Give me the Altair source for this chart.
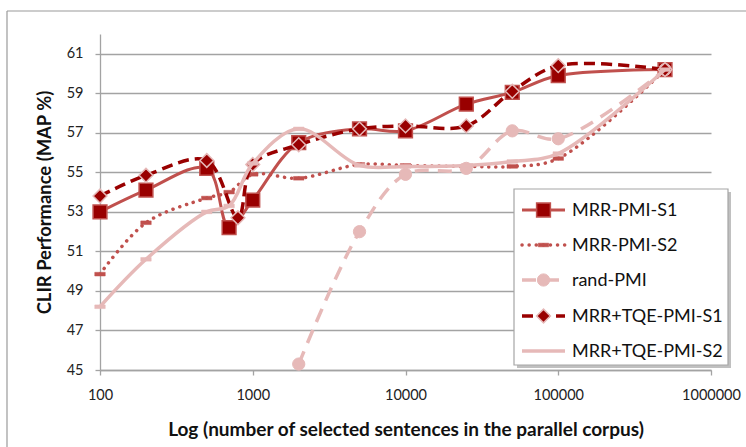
import altair as alt
import pandas as pd

# Number of selected sentences (x) and MAP scores (%) for each run
n_mrr_s1 = [100, 200, 500, 700, 1000, 2000, 5000, 10000, 25000, 50000, 100000, 500000]
map_mrr_s1 = [53.0, 54.1, 55.2, 52.2, 53.6, 56.5, 57.2, 57.1, 58.45, 59.05, 59.9, 60.2]

n_mrr_s2 = [100, 200, 500, 700, 1000, 2000, 5000, 10000, 25000, 50000, 100000, 500000]
map_mrr_s2 = [49.85, 52.45, 53.7, 54.0, 54.9, 54.7, 55.4, 55.35, 55.3, 55.3, 55.7, 60.2]

n_rand = [2000, 5000, 10000, 25000, 50000, 100000, 500000]
map_rand = [45.3, 52.0, 54.9, 55.2, 57.1, 56.7, 60.2]

n_tqe_s1 = [100, 200, 500, 800, 1000, 2000, 5000, 10000, 25000, 50000, 100000, 500000]
map_tqe_s1 = [53.8, 54.85, 55.6, 52.7, 55.4, 56.4, 57.2, 57.35, 57.35, 59.1, 60.4, 60.2]

n_tqe_s2 = [100, 200, 500, 700, 1000, 2000, 5000, 10000, 25000, 50000, 100000, 500000]
map_tqe_s2 = [48.2, 50.6, 53.0, 53.3, 55.45, 57.2, 55.35, 55.3, 55.35, 55.55, 55.95, 60.2]

x_ticks = [100, 1000, 10000, 100000, 1000000]
y_ticks = [45, 47, 49, 51, 53, 55, 57, 59, 61]

series_names = ["MRR-PMI-S1", "MRR-PMI-S2", "rand-PMI", "MRR+TQE-PMI-S1", "MRR+TQE-PMI-S2"]

W, H = 611, 336
FONT = "Lato"
AXIS_GREY = "#a3a3a3"

RED_MID = "#c0504d"
RED_DARK = "#990000"
PINK = "#e6b9b8"
DASH_BAR = "M-1,-0.35H1V0.35H-1Z"

X = alt.X(
    "n:Q",
    scale=alt.Scale(type="log", domain=[100, 1000000]),
    axis=alt.Axis(
        values=x_ticks, format="d", grid=False, labelFlush=False,
        title="Log (number of selected sentences in the parallel corpus)",
        domainColor=AXIS_GREY, domainWidth=1.3, tickColor=AXIS_GREY, tickWidth=1.3,
        tickSize=5, labelPadding=13, labelFont=FONT, labelFontSize=14.5,
        labelColor="#222222", titleFont=FONT, titleFontSize=19, titleFontWeight="bold",
        titleColor="#111111", titlePadding=19,
    ),
)
Y = alt.Y(
    "v:Q",
    scale=alt.Scale(domain=[45, 62], nice=False, zero=False),
    axis=alt.Axis(
        values=y_ticks, grid=True, gridColor=AXIS_GREY, gridWidth=1.3, labelFlush=False,
        title="CLIR Performance (MAP %)",
        domainColor=AXIS_GREY, domainWidth=1.3, tickColor=AXIS_GREY, tickWidth=1.3,
        tickSize=5, labelPadding=12, labelFont=FONT, labelFontSize=14.5,
        labelColor="#222222", titleFont=FONT, titleFontSize=18.4, titleFontWeight="bold",
        titleColor="#111111", titlePadding=12,
    ),
)


def frame(ns, vs):
    return pd.DataFrame({"n": ns, "v": vs})


def series(ns, vs, line_style, point_style):
    df = frame(ns, vs)
    line = alt.Chart(df).mark_line(interpolate="catmull-rom", **line_style).encode(x=X, y=Y)
    layers = [line]
    if point_style is not None:
        layers.append(
            alt.Chart(df).mark_point(opacity=1, fillOpacity=1, **point_style).encode(x=X, y=Y)
        )
    return layers


styles = [
    (dict(stroke=RED_MID, strokeWidth=3),
     dict(shape="square", fill=RED_DARK, stroke=RED_MID, strokeWidth=1.5, size=190)),
    (dict(stroke=RED_MID, strokeWidth=3.5, strokeDash=[0.1, 7], strokeCap="round"),
     dict(shape=DASH_BAR, fill=RED_MID, stroke=RED_MID, strokeWidth=0.5, size=110)),
    (dict(stroke=PINK, strokeWidth=3.5, strokeDash=[14, 9]),
     dict(shape="circle", fill=PINK, stroke=PINK, strokeWidth=1, size=150)),
    (dict(stroke=RED_DARK, strokeWidth=3.5, strokeDash=[11, 6]),
     dict(shape="diamond", fill=RED_DARK, stroke=PINK, strokeWidth=1.5, size=190)),
    (dict(stroke=PINK, strokeWidth=3.5),
     dict(shape=DASH_BAR, fill=PINK, stroke=PINK, strokeWidth=0.5, size=110)),
]

data_sets = [
    (n_mrr_s1, map_mrr_s1),
    (n_mrr_s2, map_mrr_s2),
    (n_rand, map_rand),
    (n_tqe_s1, map_tqe_s1),
    (n_tqe_s2, map_tqe_s2),
]

layers = []
for (ns, vs), (ls, ps) in zip(data_sets, styles):
    layers += series(ns, vs, ls, ps)

# Outer chart frame (top and left edges)
one = alt.Data(values=[{"k": 0}])
frame_top = alt.Chart(one).mark_rule(stroke="#9a9a9a", strokeWidth=1.2).encode(
    x=alt.value(-93), x2=alt.value(W + 60), y=alt.value(-23))
frame_left = alt.Chart(one).mark_rule(stroke="#9a9a9a", strokeWidth=1.2).encode(
    x=alt.value(-93), y=alt.value(-23), y2=alt.value(H + 90))
layers += [frame_top, frame_left]

# Legend box with drop shadow
LX0, LX1, LY0, LY1 = 414, 628, 155, 331
shadow = alt.Chart(one).mark_rect(fill="#8c8c8c", opacity=0.55).encode(
    x=alt.value(LX0 + 3), x2=alt.value(LX1 + 3), y=alt.value(LY0 + 3), y2=alt.value(LY1 + 3))
box = alt.Chart(one).mark_rect(fill="white", stroke="#a6a6a6", strokeWidth=1.2).encode(
    x=alt.value(LX0), x2=alt.value(LX1), y=alt.value(LY0), y2=alt.value(LY1))
layers += [shadow, box]

row_y = [176, 211, 246, 282, 317]
for name, ry, (ls, ps) in zip(series_names, row_y, styles):
    lab = alt.Data(values=[{"label": name}])
    layers.append(alt.Chart(lab).mark_rule(**ls).encode(
        x=alt.value(422), x2=alt.value(465), y=alt.value(ry)))
    if name != "MRR+TQE-PMI-S2":
        layers.append(alt.Chart(lab).mark_point(opacity=1, fillOpacity=1, **ps).encode(
            x=alt.value(443.5), y=alt.value(ry)))
    layers.append(alt.Chart(lab).mark_text(
        align="left", baseline="middle", font=FONT, fontSize=18, color="#111111"
    ).encode(x=alt.value(472), y=alt.value(ry + 1), text="label:N"))

chart = alt.layer(*layers).properties(
    width=W, height=H,
    autosize=alt.AutoSizeParams(type="none"),
    padding={"left": 100, "top": 34, "right": 35, "bottom": 77},
    background="white",
).configure_view(stroke=None)

chart.save("out.html", embed_options={"renderer": "svg", "actions": False})
